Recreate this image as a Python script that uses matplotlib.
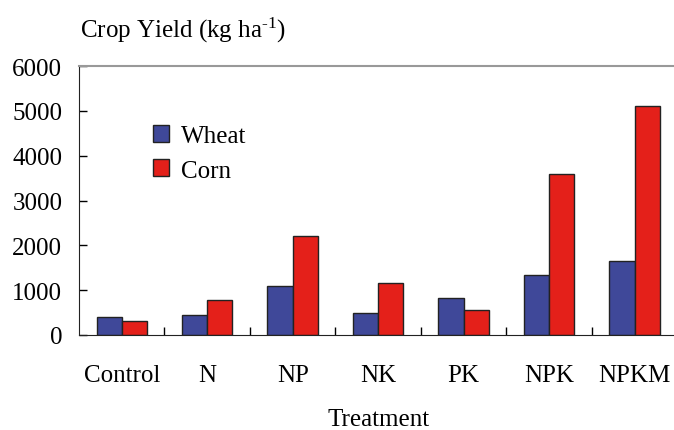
import matplotlib
matplotlib.use("Agg")
import matplotlib.pyplot as plt
import numpy as np

plt.rcParams["font.family"] = ["Liberation Serif", "DejaVu Serif"]
plt.rcParams["mathtext.fontset"] = "custom"
plt.rcParams["mathtext.rm"] = "Liberation Serif"
plt.rcParams["mathtext.it"] = "Liberation Serif:italic"

treatments = ["Control", "N", "NP", "NK", "PK", "NPK", "NPKM"]
wheat = [410, 440, 1100, 480, 820, 1340, 1645]
corn = [310, 785, 2200, 1170, 548, 3580, 5110]
yticks = [0, 1000, 2000, 3000, 4000, 5000, 6000]

fs = 18

fig = plt.figure(figsize=(6.74, 4.31), dpi=100)
ax = fig.add_axes([79 / 674, 1 - 336 / 431, 600 / 674, 269 / 431])

x = np.arange(len(treatments))
w = 0.295
ax.bar(x - w / 2, wheat, w, color="#3f4899", edgecolor="#222222", linewidth=1.0, label="Wheat")
ax.bar(x + w / 2, corn, w, color="#e4201a", edgecolor="#222222", linewidth=1.0, label="Corn")

ax.set_xlim(-0.5, len(treatments) - 0.5 + 0.02)
ax.set_ylim(0, 6000)
ax.set_yticks(yticks)
ax.set_yticklabels([str(v) for v in yticks], fontsize=fs)
ax.set_xticks(x[:-1] + 0.5, minor=True)
ax.set_xticks(x)
ax.set_xticklabels(treatments, fontsize=fs)
ax.tick_params(axis="x", which="major", length=0, pad=21)
ax.tick_params(axis="x", which="minor", direction="in", length=6, width=1)
ax.tick_params(axis="y", direction="in", length=6, width=1, pad=12)

ax.spines["right"].set_visible(False)
ax.spines["top"].set_color("#999999")
ax.spines["top"].set_linewidth(1.5)
ax.spines["left"].set_color("#222222")
ax.spines["bottom"].set_color("#222222")

ax.set_xlabel("Treatment", fontsize=fs, labelpad=16)
fig.text(80 / 674, 1 - 30 / 431, r"Crop Yield (kg ha$^{\text{-1}}$)", fontsize=fs, va="center", ha="left")

ax.legend(loc="upper left", bbox_to_anchor=(0.085, 0.865), frameon=False, fontsize=fs,
          handlelength=0.65, handleheight=0.65, handletextpad=0.5, labelspacing=0.5)

fig.savefig("out.png", dpi=100)
